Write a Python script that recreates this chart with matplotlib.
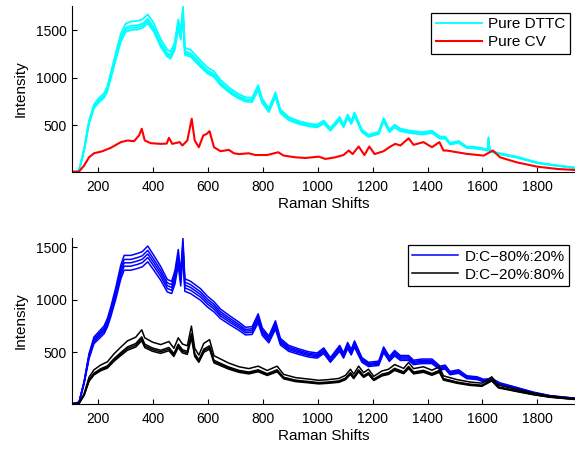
import matplotlib
matplotlib.use('Agg')
import matplotlib.pyplot as plt
import numpy as np

# %%
# values (Raman shift in cm-1, intensity in counts)
# base = lowest replicate, scale = relative height of each replicate
dttc_x = [105, 120, 131, 149, 167, 185, 204, 222, 234, 246, 264, 283, 301, 319, 343,
          361, 381, 403, 428, 452, 464, 479, 492, 501, 509, 516, 537, 573, 598, 622,
          646, 683, 713, 737, 761, 783, 798, 822, 846, 864, 894, 931, 967, 998, 1022,
          1046, 1080, 1094, 1109, 1122, 1134, 1161, 1185, 1222, 1240, 1261, 1280, 1301,
          1337, 1380, 1416, 1446, 1464, 1482, 1513, 1543, 1567, 1604, 1619, 1622, 1626,
          1652, 1725, 1800, 1871, 1937]
dttc_y = [14, 16, 30, 237, 520, 680, 745, 790, 860, 990, 1185, 1380, 1480, 1500, 1505,
          1520, 1570, 1482, 1325, 1220, 1200, 1290, 1520, 1400, 1650, 1240, 1220, 1114,
          1044, 1009, 921, 834, 781, 750, 745, 870, 735, 640, 800, 630, 555, 515, 490,
          480, 520, 445, 555, 480, 580, 515, 600, 430, 380, 410, 545, 430, 480, 440, 420,
          405, 420, 360, 362, 300, 318, 262, 262, 245, 235, 355, 230, 204, 163, 105, 77, 54]
dttc_scale = [1.0, 1.015, 1.03, 1.06]

cv_x = [105, 120, 131, 149, 167, 185, 216, 246, 283, 307, 331, 349, 359, 370, 392, 428,
        450, 458, 470, 497, 507, 525, 541, 552, 567, 583, 595, 606, 622, 646, 676, 695,
        713, 749, 773, 816, 856, 876, 919, 955, 1004, 1028, 1064, 1094, 1113, 1127, 1149,
        1170, 1188, 1207, 1240, 1261, 1282, 1301, 1331, 1349, 1385, 1416, 1443, 1458,
        1470, 1543, 1604, 1638, 1664, 1725, 1800, 1871, 1937]
cv_y = [14, 14, 18, 79, 166, 208, 230, 265, 325, 342, 335, 395, 465, 342, 314, 307,
        310, 370, 307, 325, 290, 342, 570, 342, 272, 395, 410, 440, 272, 230, 244, 208,
        200, 208, 190, 190, 219, 184, 166, 159, 173, 149, 166, 190, 237, 200, 279,
        190, 279, 200, 230, 272, 307, 290, 365, 297, 325, 272, 325, 237,
        237, 202, 184, 237, 166, 113, 68, 44, 33]

mix82_x = [105, 120, 131, 149, 167, 185, 204, 222, 234, 246, 264, 283, 295, 319, 343,
           361, 381, 403, 428, 452, 468, 480, 492, 501, 509, 516, 537, 573, 598, 622,
           646, 683, 713, 737, 761, 783, 798, 822, 846, 864, 894, 931, 967, 998, 1022,
           1046, 1080, 1094, 1109, 1122, 1134, 1161, 1185, 1222, 1240, 1261, 1280, 1301,
           1331, 1349, 1380, 1416, 1446, 1464, 1482, 1513, 1543, 1580, 1604, 1634, 1664,
           1725, 1785, 1846, 1937]
mix82_y = [12, 14, 27, 201, 439, 582, 630, 677, 741, 836, 1000, 1200, 1280, 1280, 1296,
           1312, 1360, 1280, 1185, 1074, 1058, 1150, 1330, 1130, 1428, 1080, 1058, 995,
           931, 884, 820, 757, 709, 665, 670, 780, 660, 590, 720, 570, 510, 480, 455,
           445, 488, 405, 510, 445, 535, 475, 548, 405, 365, 375, 496, 414, 466, 423,
           423, 383, 393, 393, 332, 341, 287, 301, 250, 241, 220, 226, 189,
           150, 110, 80, 58]
mix82_scale = [1.0, 1.03, 1.055, 1.08, 1.11]

mix28_x = [105, 120, 131, 149, 167, 185, 210, 234, 258, 283, 307, 337, 359, 370, 398,
           428, 458, 476, 492, 507, 525, 540, 552, 567, 585, 606, 622, 646, 676, 713,
           749, 783, 816, 852, 876, 919, 967, 1004, 1035, 1077, 1101, 1119, 1131, 1149,
           1167, 1185, 1204, 1234, 1258, 1280, 1313, 1331, 1349, 1385, 1416, 1443, 1458,
           1507, 1555, 1598, 1634, 1658, 1725, 1785, 1846, 1937]
mix28_y = [10, 12, 17, 91, 225, 285, 325, 350, 415, 470, 520, 550, 610, 545, 510,
           490, 515, 460, 545, 495, 480, 640, 460, 405, 500, 530, 400, 373, 340, 310,
           295, 315, 280, 315, 248, 222, 210, 200, 205, 215, 240, 290, 250, 315,
           262, 290, 232, 276, 290, 328, 297, 345, 295, 310, 282, 310, 236,
           206, 186, 177, 228, 162, 127, 97, 73, 52]
mix28_scale = [1.0, 1.03, 1.06, 1.17]

xticks = [200, 400, 600, 800, 1000, 1200, 1400, 1600, 1800]
yticks = [500, 1000, 1500]

# %%
plt.rcParams['font.family'] = ['Liberation Sans', 'DejaVu Sans']
plt.rcParams['font.size'] = 10


def style_axis(ax, ylim):
    ax.set_xlim(105, 1937)
    ax.set_ylim(ylim)
    ax.set_xticks(xticks)
    ax.set_yticks(yticks)
    ax.spines['top'].set_visible(False)
    ax.spines['right'].set_visible(False)
    for s in ['left', 'bottom']:
        ax.spines[s].set_linewidth(0.8)
    ax.tick_params(direction='in', length=3.5, width=0.8, labelsize=10)
    ax.tick_params(axis='x', pad=5.5)
    ax.tick_params(axis='y', pad=4)
    ax.set_xlabel('Raman Shifts', fontsize=11, labelpad=2.5)
    ax.set_ylabel('Intensity', fontsize=11, labelpad=6)


def add_legend(ax, handles, labels, anchor):
    leg = ax.legend(handles, labels, loc='upper right', bbox_to_anchor=anchor,
                    bbox_transform=fig.transFigure, fancybox=False, framealpha=1,
                    edgecolor='black', fontsize=11, handlelength=3.05,
                    handletextpad=0.4, labelspacing=0.26, borderpad=0.28,
                    borderaxespad=0)
    leg.get_frame().set_linewidth(0.9)


fig = plt.figure(figsize=(5.75, 4.49), dpi=100)
ax1 = fig.add_axes([72/575, 1-172/449, 503/575, 166/449])
ax2 = fig.add_axes([72/575, 1-404/449, 503/575, 166/449])

# top: pure components
for k in dttc_scale:
    lc, = ax1.plot(dttc_x, np.array(dttc_y)*k, color='#00ffff', lw=1.3)
lr, = ax1.plot(cv_x, cv_y, color='#ff0000', lw=1.5)
style_axis(ax1, (12, 1752))
add_legend(ax1, [lc, lr], ['Pure DTTC', 'Pure CV'], (570/575, 1-13/449))

# bottom: mixtures
for k in mix82_scale:
    lb, = ax2.plot(mix82_x, np.array(mix82_y)*k, color='#0000ff', lw=1.1)
for k in mix28_scale:
    lk, = ax2.plot(mix28_x, np.array(mix28_y)*k, color='black', lw=1.1)
style_axis(ax2, (9, 1586))
add_legend(ax2, [lb, lk], ['D:C\u221280%:20%', 'D:C\u221220%:80%'],
           (569/575, 1-245.5/449))

fig.savefig('out.png', dpi=100)
plt.close()
